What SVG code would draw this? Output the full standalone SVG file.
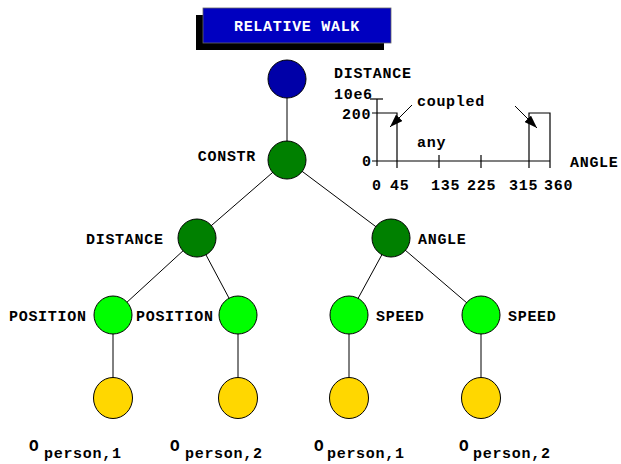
<svg xmlns="http://www.w3.org/2000/svg" width="621" height="464" viewBox="0 0 621 464">
<style>
text{font-family:"Liberation Mono","Courier New",monospace;font-weight:bold;font-size:15px;letter-spacing:0.7px;fill:#000}
.big{font-size:16px}
.n{stroke:#000;stroke-width:1}
.e{stroke:#000;stroke-width:1;fill:none}
.ax{stroke:#000;stroke-width:1.2;fill:none}
</style>
<defs>
<marker id="ah" viewBox="0 0 13 9" refX="13" refY="4.5" markerWidth="13" markerHeight="9" markerUnits="userSpaceOnUse" orient="auto"><path d="M0,0 L13,4.5 L0,9 z" fill="#000"/></marker>
</defs>
<rect width="621" height="464" fill="#fff"/>
<g id="title">
<rect x="196" y="15" width="188" height="35" fill="#000"/>
<rect x="203" y="8" width="188" height="35" fill="#0000c0" stroke="#666" stroke-width="0.8"/>
<text x="297" y="31" text-anchor="middle" style="fill:#fff">RELATIVE WALK</text>
</g>
<g id="connectors">
<line class="e" x1="287" y1="79" x2="287" y2="160"/>
<line class="e" x1="287" y1="160" x2="197" y2="238"/>
<line class="e" x1="287" y1="160" x2="391" y2="238"/>
<line class="e" x1="197" y1="238" x2="113" y2="315"/>
<line class="e" x1="197" y1="238" x2="238" y2="315"/>
<line class="e" x1="391" y1="238" x2="349" y2="315"/>
<line class="e" x1="391" y1="238" x2="481" y2="315"/>
<line class="e" x1="113" y1="315" x2="113" y2="398"/>
<line class="e" x1="238" y1="315" x2="238" y2="398"/>
<line class="e" x1="349" y1="315" x2="349" y2="398"/>
<line class="e" x1="481" y1="315" x2="481" y2="398"/>
</g>
<g id="root"><circle class="n" cx="287" cy="79" r="19" fill="#0000a8"/></g>
<g id="constr"><circle class="n" cx="287" cy="160" r="19" fill="#008000"/><text x="256" y="161" text-anchor="end">CONSTR</text></g>
<g id="distance"><circle class="n" cx="197" cy="238" r="19" fill="#008000"/><text x="86" y="244">DISTANCE</text></g>
<g id="angle"><circle class="n" cx="391" cy="238" r="19" fill="#008000"/><text x="418" y="244">ANGLE</text></g>
<g id="position1"><circle class="n" cx="113" cy="315" r="19" fill="#00ff00"/><text x="9" y="321">POSITION</text></g>
<g id="position2"><circle class="n" cx="238" cy="315" r="19" fill="#00ff00"/><text x="136" y="321">POSITION</text></g>
<g id="speed1"><circle class="n" cx="349" cy="315" r="19" fill="#00ff00"/><text x="376" y="321">SPEED</text></g>
<g id="speed2"><circle class="n" cx="481" cy="315" r="19" fill="#00ff00"/><text x="508" y="321">SPEED</text></g>
<g id="obj1"><ellipse class="n" cx="113" cy="398" rx="19.5" ry="20.5" fill="#ffd700"/><text class="big" x="29" y="451">O</text><text x="44" y="458">person,1</text></g>
<g id="obj2"><ellipse class="n" cx="238" cy="398" rx="19.5" ry="20.5" fill="#ffd700"/><text class="big" x="170" y="451">O</text><text x="185" y="458">person,2</text></g>
<g id="obj3"><ellipse class="n" cx="349" cy="398" rx="19.5" ry="20.5" fill="#ffd700"/><text class="big" x="314" y="451">O</text><text x="327" y="458">person,1</text></g>
<g id="obj4"><ellipse class="n" cx="481" cy="398" rx="19.5" ry="20.5" fill="#ffd700"/><text class="big" x="459" y="451">O</text><text x="473" y="458">person,2</text></g>
<g id="chart">
<line class="ax" x1="377" y1="99" x2="377" y2="166"/>
<line class="ax" x1="372" y1="161" x2="550" y2="161"/>
<line class="ax" x1="370" y1="99" x2="383" y2="99"/>
<polyline class="ax" points="372,113 397,113 397,168"/>
<polyline class="ax" points="529,168 529,113 550,113 550,168"/>
<line class="ax" x1="439" y1="155" x2="439" y2="168"/>
<line class="ax" x1="481" y1="155" x2="481" y2="168"/>
<line class="e" x1="412" y1="105" x2="390" y2="127" marker-end="url(#ah)"/>
<line class="e" x1="515" y1="106" x2="537" y2="128" marker-end="url(#ah)"/>
<text x="334" y="78">DISTANCE</text>
<text x="334" y="99">10e6</text>
<text x="342" y="119">200</text>
<text x="362" y="166">0</text>
<text x="417" y="106">coupled</text>
<text x="417" y="147">any</text>
<text x="570" y="167">ANGLE</text>
<text x="372" y="190">0</text>
<text x="390" y="190">45</text>
<text x="431" y="190">135</text>
<text x="467" y="190">225</text>
<text x="509" y="190">315</text>
<text x="544" y="190">360</text>
</g>
</svg>
